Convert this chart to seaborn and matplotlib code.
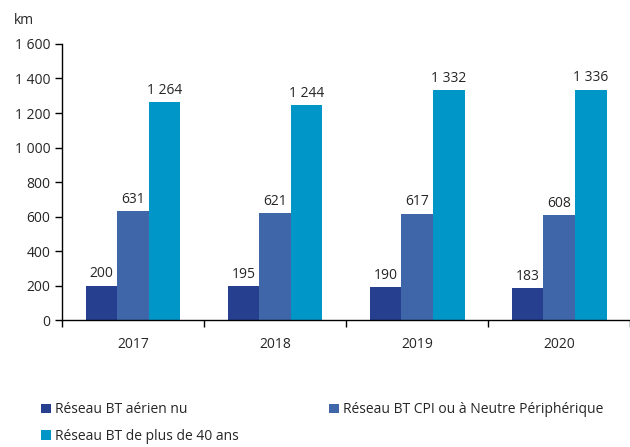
import numpy as np
import matplotlib
matplotlib.use("Agg")
import matplotlib.pyplot as plt
from matplotlib.ticker import FuncFormatter, FixedLocator
import pandas as pd
import seaborn as sns

years = ["2017", "2018", "2019", "2020"]
series = ["Réseau BT aérien nu",
          "Réseau BT CPI ou à Neutre Périphérique",
          "Réseau BT de plus de 40 ans"]
aerien = [200, 195, 190, 183]
cpi = [631, 621, 617, 608]
plus40 = [1264, 1244, 1332, 1336]
colors = ["#263f8e", "#4066aa", "#0096c8"]

rows = []
for name, vals in zip(series, [aerien, cpi, plus40]):
    for y, v in zip(years, vals):
        rows.append({"year": y, "serie": name, "km": v})
df = pd.DataFrame(rows)

sns.set_style("white")
plt.rcParams["font.family"] = ["Open Sans", "DejaVu Sans"]

def fmt(v):
    return f"{int(v):,}".replace(",", " ")

fig = plt.figure(figsize=(6.3, 4.47), dpi=100)
ax = fig.add_axes([0.0984, 0.284, 0.902, 0.6176])
sns.barplot(data=df, x="year", y="km", hue="serie", palette=colors,
            width=0.667, saturation=1, linewidth=0, ax=ax, legend=True)

for cont in ax.containers:
    ax.bar_label(cont, labels=[fmt(b.get_height()) for b in cont],
                 padding=3, fontsize=10)

ax.set_ylim(0, 1600)
ax.set_xlim(-0.5, 3.5)
ax.set_yticks(np.arange(0, 1601, 200))
ax.yaxis.set_major_formatter(FuncFormatter(lambda v, p: fmt(v)))
ax.tick_params(axis="y", length=5, width=1, direction="out", left=True,
               labelsize=10, color="black")
ax.tick_params(axis="x", length=0, labelsize=10, pad=12)
ax.xaxis.set_minor_locator(FixedLocator(np.arange(-0.5, 4, 1)))
ax.tick_params(axis="x", which="minor", length=5, width=1, direction="out",
               bottom=True, color="black")
ax.set_xlabel("")
ax.set_ylabel("")
sns.despine(ax=ax)
for s in ["left", "bottom"]:
    ax.spines[s].set_color("black")
    ax.spines[s].set_linewidth(1)

fig.text(0.022, 0.955, "km", fontsize=10, va="center")

handles, labels = ax.get_legend_handles_labels()
ax.legend_.remove()
order = [0, 2, 1]
fig.legend([handles[i] for i in order], [labels[i] for i in order],
           ncol=2, loc="upper left",
           bbox_to_anchor=(0.057, 0.112), frameon=False, fontsize=10,
           handlelength=0.7, handleheight=0.7, handletextpad=0.3,
           columnspacing=6.5, labelspacing=0.8, borderaxespad=0)

fig.savefig("out.png", dpi=100)
